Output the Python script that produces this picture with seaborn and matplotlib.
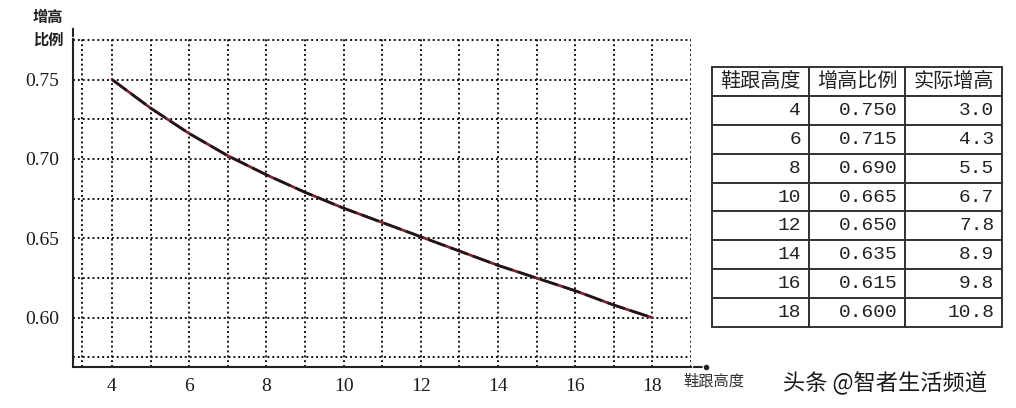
import numpy as np
import pandas as pd
import seaborn as sns
import matplotlib
matplotlib.use('Agg')
from matplotlib import pyplot as plt
from matplotlib.ticker import MultipleLocator

heel_height = [4, 6, 8, 10, 12, 14, 16, 18]
raise_ratio = [0.750, 0.715, 0.690, 0.665, 0.650, 0.635, 0.615, 0.600]
real_raise = [3.0, 4.3, 5.5, 6.7, 7.8, 8.9, 9.8, 10.8]
col_labels = ['鞋跟高度', '增高比例', '实际增高']

# the drawn curve at every grid column
curve_x = [4, 5, 6, 7, 8, 9, 10, 11, 12, 13, 14, 15, 16, 17, 18]
curve_y = [0.750, 0.732, 0.716, 0.702, 0.690, 0.679, 0.669, 0.660, 0.651,
           0.642, 0.633, 0.625, 0.617, 0.608, 0.600]

sns.set_style('white')
plt.rcParams['font.family'] = ['Liberation Serif', 'Noto Sans CJK SC', 'DejaVu Sans']
cjk = ['Noto Sans CJK SC', 'DejaVu Sans']

df = pd.DataFrame({'h': curve_x, 'r': curve_y})

fig = plt.figure(figsize=(10.16, 4.08), dpi=100)
ax = fig.add_axes([73 / 1016, 41 / 408, 618 / 1016, 328 / 408])

# curve: dark line with a reddish tint
sns.lineplot(data=df, x='h', y='r', ax=ax, color='#7a2535', linewidth=2.0)
sns.lineplot(data=df, x='h', y='r', ax=ax, color='#1e1618', linewidth=1.9,
             dashes=False, linestyle=(0, (7, 2)))

ax.set_xlim(2.99, 19.0)
ax.set_ylim(0.569, 0.7755)

# dotted grid
grid_kw = dict(color='#151515', linewidth=1.4, linestyle=(0, (1, 1.5)), zorder=0)
for gx in [3.22] + list(range(4, 20)):
    ax.axvline(gx, **grid_kw)
for gy in np.arange(0.575, 0.776, 0.025):
    ax.axhline(gy, **grid_kw)

ax.xaxis.set_major_locator(MultipleLocator(2))
ax.xaxis.set_minor_locator(MultipleLocator(1))
ax.yaxis.set_major_locator(MultipleLocator(0.05))
ax.yaxis.set_minor_locator(MultipleLocator(0.025))
ax.tick_params(axis='both', which='both', direction='in', length=6.5, width=1.4,
               color='#222222')
ax.tick_params(axis='x', which='major', pad=8, labelsize=14, labelcolor='#1a1a1a')
ax.tick_params(axis='y', which='major', pad=10, labelsize=14, labelcolor='#1a1a1a')
ax.set_xticks(heel_height)
ax.set_yticks([0.60, 0.65, 0.70, 0.75])
ax.set_yticklabels(['0.60', '0.65', '0.70', '0.75'])
ax.set_xlabel('')
ax.set_ylabel('')

for s in ['top', 'right']:
    ax.spines[s].set_visible(False)
for s in ['left', 'bottom']:
    ax.spines[s].set_color('#222222')
    ax.spines[s].set_linewidth(1.5)

# axis arrows
ax.annotate('', xy=(1.022, 0), xytext=(1.0, 0), xycoords='axes fraction',
            arrowprops=dict(arrowstyle='-', color='#222222', lw=1.5),
            annotation_clip=False)
ax.plot([1.024], [0], 'o', ms=3, color='#222222', transform=ax.transAxes,
        clip_on=False)
ax.annotate('', xy=(0, 1.04), xytext=(0, 1.0), xycoords='axes fraction',
            arrowprops=dict(arrowstyle='-', color='#222222', lw=1.5),
            annotation_clip=False)

fig.text(48 / 1016, 1 - 17 / 408, '增高', family=cjk, fontsize=11,
         fontweight='bold', ha='center', va='center', color='#222222')
fig.text(48 / 1016, 1 - 40 / 408, '比例', family=cjk, fontsize=11,
         fontweight='bold', ha='center', va='center', color='#222222')
fig.text(714 / 1016, 1 - 381 / 408, '鞋跟高度', family=cjk, fontsize=11,
         ha='center', va='center', color='#333333')

# table
tax = fig.add_axes([712 / 1016, 81 / 408, 290 / 1016, 260 / 408])
tax.axis('off')
cells = [[str(h), f'{r:.3f}', f'{v:.1f}'] for h, r, v in zip(heel_height, raise_ratio, real_raise)]
tab = tax.table(cellText=cells, colLabels=col_labels, bbox=[0, 0, 1, 1],
                cellLoc='right')
tab.auto_set_font_size(False)
for (row, col), cell in tab.get_celld().items():
    cell.set_edgecolor('#333333')
    cell.set_linewidth(1.4)
    cell.PAD = 0.08
    t = cell.get_text()
    if row == 0:
        t.set_fontfamily(cjk)
        t.set_fontsize(14.5)
        cell._loc = 'center'
    else:
        t.set_fontfamily('Liberation Mono')
        t.set_fontsize(14)
        if col == 1:
            cell._loc = 'center'
    t.set_color('#222222')

fig.text(885 / 1016, 1 - 382 / 408, '头条 @智者生活频道', family=cjk, fontsize=16,
         ha='center', va='center', color='#1a1a1a')

fig.savefig('out.png', dpi=100, facecolor='white')
